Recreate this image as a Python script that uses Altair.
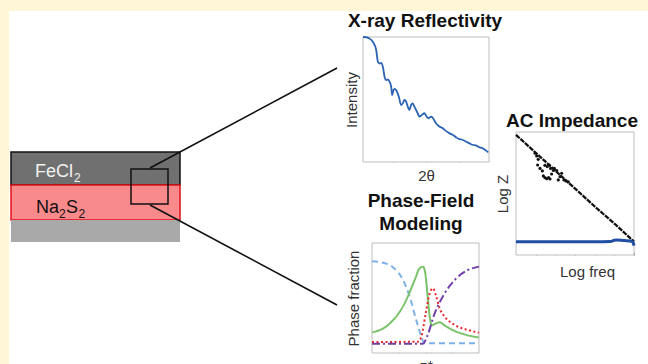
import altair as alt
import pandas as pd

W, H = 648, 364
FONT = "Liberation Sans"

# ---------------- X-ray reflectivity ----------------
xrr_2theta = [0.10, 0.20, 0.30, 0.40, 0.50, 0.55, 0.60, 0.65, 0.70, 0.75, 0.80, 0.85, 0.90, 0.95,
              0.98, 1.02, 1.05, 1.10, 1.18, 1.25, 1.30, 1.35, 1.40, 1.45, 1.50, 1.55, 1.60, 1.65,
              1.75, 1.80, 1.88, 1.95, 2.02, 2.08, 2.15, 2.20, 2.30, 2.40, 2.50, 2.60, 2.70, 2.80,
              2.90, 3.00, 3.10, 3.20, 3.30, 3.40, 3.50, 3.60, 3.70, 3.80, 3.88]
xrr_intensity = [10.0, 9.98, 9.87, 9.60, 8.94, 8.01, 7.88, 7.93, 7.61, 6.82, 6.55, 6.60, 6.42, 6.02,
                 5.36, 5.76, 5.85, 5.75, 5.23, 4.56, 4.69, 4.96, 4.83, 4.43, 4.16, 4.56, 4.69, 4.43,
                 3.90, 3.63, 3.77, 3.90, 3.63, 3.50, 3.63, 3.55, 3.10, 2.84, 2.71, 2.49, 2.31, 2.18,
                 1.99, 1.83, 1.78, 1.64, 1.51, 1.38, 1.33, 1.19, 1.11, 0.93, 0.77]
xrr_x_ticks = [1, 2, 3]
xrr_y_ticks = [3.6, 5.0]

# ---------------- AC impedance ----------------
ac_logf = [0.0, 0.88, 1.5, 2.0, 2.91, 4.1, 5.03, 6.0]
ac_logz = [6.67, 5.80, 5.18, 4.68, 3.78, 2.60, 1.72, 0.74]
ac_loop_logf = [0.97, 1.05, 1.13, 1.10, 1.22, 1.34, 1.39, 1.47, 1.56, 1.66, 1.73, 1.81, 1.90,
                1.76, 1.59, 1.47, 1.69, 1.95, 2.07, 2.15, 2.24, 2.32, 2.44, 2.54, 2.66]
ac_loop_logz = [5.65, 5.50, 5.31, 5.00, 4.81, 4.67, 4.39, 4.30, 4.24, 4.30, 4.22, 4.50, 4.69,
                4.81, 4.91, 4.98, 5.00, 4.81, 4.69, 4.17, 4.35, 4.54, 4.17, 4.11, 4.06]
ac_blue_logf = [0, 1, 2, 3, 4, 4.8, 5.0, 5.1, 5.5, 5.8, 5.95, 6.0]
ac_blue_logz = [0.74, 0.74, 0.74, 0.74, 0.74, 0.75, 0.82, 0.83, 0.80, 0.78, 0.70, 0.52]
ac_ticks = [1, 2, 3, 4, 5, 6]

# ---------------- Phase-field modeling ----------------
pf_names = ["phase A", "phase B", "phase C", "phase D"]
pf_a_z = [0, 0.10, 0.196, 0.29, 0.352, 0.414, 0.461, 0.49, 0.6, 1.0]
pf_a_f = [1.078, 1.06, 1.00, 0.835, 0.62, 0.31, 0.10, 0.01, 0.01, 0.01]
pf_b_z = [0, 0.150, 0.305, 0.399, 0.445, 0.477, 0.498, 0.523, 0.545, 0.561, 0.60, 0.632, 0.68,
          0.75, 0.866, 1.0]
pf_b_f = [0.152, 0.248, 0.530, 0.835, 0.987, 1.009, 0.922, 0.574, 0.30, 0.245, 0.27, 0.283, 0.24,
          0.185, 0.125, 0.085]
pf_c_z = [0, 0.43, 0.461, 0.502, 0.539, 0.570, 0.601, 0.632, 0.679, 0.773, 0.897, 1.0]
pf_c_f = [0.026, 0.03, 0.096, 0.40, 0.66, 0.726, 0.617, 0.465, 0.357, 0.248, 0.183, 0.148]
pf_d_z = [0, 0.477, 0.514, 0.586, 0.679, 0.773, 0.897, 1.0]
pf_d_f = [0.004, 0.004, 0.096, 0.40, 0.661, 0.835, 0.965, 1.009]
pf_x_ticks = [0.25, 0.5, 0.75]
pf_y_ticks = [0, 0.25, 0.5, 0.75, 1.0, 1.25]

# ---------------- helpers ----------------
blank = alt.Data(values=[{"k": 0}])


def prect(x, x2, y, y2, **kw):
    return alt.Chart(blank).mark_rect(**kw).encode(
        x=alt.value(x), x2=alt.value(x2), y=alt.value(y), y2=alt.value(y2))


def prule(x, y, x2, y2, **kw):
    return alt.Chart(blank).mark_rule(**kw).encode(
        x=alt.value(x), y=alt.value(y), x2=alt.value(x2), y2=alt.value(y2))


def ptext(txt, x, y, size, **kw):
    return alt.Chart(blank).mark_text(text=txt, font=FONT, fontSize=size, **kw).encode(
        x=alt.value(x), y=alt.value(y))


def axis(orient, edge, title, values, tpad, **kw):
    # ticks drawn inward: axis line sits 3px inside the frame edge
    if orient == "bottom":
        off = (edge - 3) - H
    else:
        off = -(edge + 3)
    return alt.Axis(orient=orient, offset=off, values=values, labels=False, domain=False,
                    grid=False, ticks=True, tickSize=3, tickColor="#8a8a8a", tickWidth=1,
                    title=title, titleFont=FONT, titleFontSize=15, titleFontWeight="normal",
                    titleColor="#333333", titlePadding=tpad, **kw)


CREAM = "#FFF6D6"
layers = [
    prect(0, W, 0, 11, fill=CREAM),
    prect(0, 9, 0, H, fill=CREAM),
    # layered sample
    prect(11, 180, 152, 185, fill="#707070", stroke="#111111", strokeWidth=1.5),
    prect(11, 180, 185, 220, fill="#F88A8C", stroke="#E0101A", strokeWidth=1.5),
    prect(11, 180, 220, 242, fill="#A9A9A9"),
    prect(131, 168, 169, 204, fill="transparent", stroke="#111111", strokeWidth=1.5),
    prule(150, 168, 337, 68, color="#111111", strokeWidth=1.6),
    prule(150, 205, 337, 305, color="#111111", strokeWidth=1.6),
    ptext("FeCl", 35, 177, 18, align="left", baseline="alphabetic", color="#F2F2F2"),
    ptext("2", 74, 182, 12, align="left", baseline="alphabetic", color="#F2F2F2"),
    ptext("Na", 36, 213, 18, align="left", baseline="alphabetic", color="#111111"),
    ptext("2", 59, 218, 12, align="left", baseline="alphabetic", color="#111111"),
    ptext("S", 66, 213, 18, align="left", baseline="alphabetic", color="#111111"),
    ptext("2", 78.5, 218, 12, align="left", baseline="alphabetic", color="#111111"),
    # panel titles
    ptext("X-ray Reflectivity", 425, 27, 19, align="center", baseline="alphabetic",
          fontWeight="bold", color="#111111"),
    ptext("AC Impedance", 572, 127, 19, align="center", baseline="alphabetic",
          fontWeight="bold", color="#111111"),
    ptext("Phase-Field", 421, 207, 19, align="center", baseline="alphabetic",
          fontWeight="bold", color="#111111"),
    ptext("Modeling", 421, 230, 19, align="center", baseline="alphabetic",
          fontWeight="bold", color="#111111"),
    # plot frames
    prect(363, 489, 37, 162, fill="white", stroke="#bdbdbd", strokeWidth=1),
    prect(516, 634, 132, 255, fill="white", stroke="#bdbdbd", strokeWidth=1),
    prect(372, 479, 243, 353, fill="white", stroke="#bdbdbd", strokeWidth=1),
]

# XRR
xrr_df = pd.DataFrame({"t": xrr_2theta, "I": xrr_intensity})
xrr = alt.Chart(xrr_df).mark_line(color="#2B63B5", strokeWidth=1.8, interpolate="monotone").encode(
    x=alt.X("t:Q", scale=alt.Scale(domain=[0.1, 3.9], range=[363, 489], nice=False, zero=False),
            axis=axis("bottom", 162, "2θ", xrr_x_ticks, 6)),
    y=alt.Y("I:Q", scale=alt.Scale(domain=[0, 10], range=[162, 37], nice=False, zero=False),
            axis=axis("left", 363, "Intensity", xrr_y_ticks, 3)),
)
layers.append(xrr)

# AC impedance
ac_x = alt.Scale(domain=[0, 6], range=[516, 634], nice=False, zero=False)
ac_y = alt.Scale(domain=[0, 6.83], range=[255, 132], nice=False, zero=False)
ac_black = alt.Chart(pd.DataFrame({"f": ac_logf, "z": ac_logz})).mark_line(
    color="#111111", strokeWidth=2.3, strokeDash=[5, 1]).encode(
    x=alt.X("f:Q", scale=ac_x, axis=axis("bottom", 255, "Log freq", ac_ticks, 9, titleX=587)),
    y=alt.Y("z:Q", scale=ac_y, axis=axis("left", 516, "Log Z", ac_ticks, 5)),
)
ac_loop = alt.Chart(pd.DataFrame({"f": ac_loop_logf, "z": ac_loop_logz})).mark_circle(
    color="#111111", size=10, opacity=1).encode(
    x=alt.X("f:Q", scale=ac_x, axis=None),
    y=alt.Y("z:Q", scale=ac_y, axis=None),
)
ac_blue = alt.Chart(pd.DataFrame({"f": ac_blue_logf, "z": ac_blue_logz})).mark_line(
    color="#1F4EA3", strokeWidth=3, interpolate="monotone").encode(
    x=alt.X("f:Q", scale=ac_x, axis=None),
    y=alt.Y("z:Q", scale=ac_y, axis=None),
)
layers += [ac_black, ac_loop, ac_blue]

# Phase field
rows = []
for name, zs, fs in zip(pf_names, [pf_a_z, pf_b_z, pf_c_z, pf_d_z], [pf_a_f, pf_b_f, pf_c_f, pf_d_f]):
    for z, f in zip(zs, fs):
        rows.append({"s": name, "z": z, "p": f})
pf_df = pd.DataFrame(rows)
pf = alt.Chart(pf_df).mark_line(strokeWidth=2, interpolate="monotone").encode(
    x=alt.X("z:Q", scale=alt.Scale(domain=[0, 1], range=[372, 479], nice=False, zero=False),
            axis=axis("bottom", 353, "z*", pf_x_ticks, 5, titleFontStyle="italic")),
    y=alt.Y("p:Q", scale=alt.Scale(domain=[-0.117, 1.317], range=[353, 243], nice=False, zero=False),
            axis=axis("left", 372, "Phase fraction", pf_y_ticks, 10)),
    color=alt.Color("s:N", scale=alt.Scale(domain=pf_names,
                                           range=["#7DB1E6", "#7AC36A", "#E8282B", "#7040A8"]),
                    legend=None),
    strokeDash=alt.StrokeDash("s:N", scale=alt.Scale(domain=pf_names,
                                                    range=[[6, 4], [1, 0], [2, 2.5], [8, 3, 2, 3]]),
                              legend=None),
    detail="s:N",
)
layers.append(pf)

chart = alt.layer(*layers).resolve_scale(
    x="independent", y="independent", color="independent", strokeDash="independent"
).properties(
    width=W, height=H, padding=0, background="white",
    autosize=alt.AutoSizeParams(type="none"),
).configure_view(stroke="transparent")

chart.save("out.html", embed_options={"renderer": "svg", "actions": False})
